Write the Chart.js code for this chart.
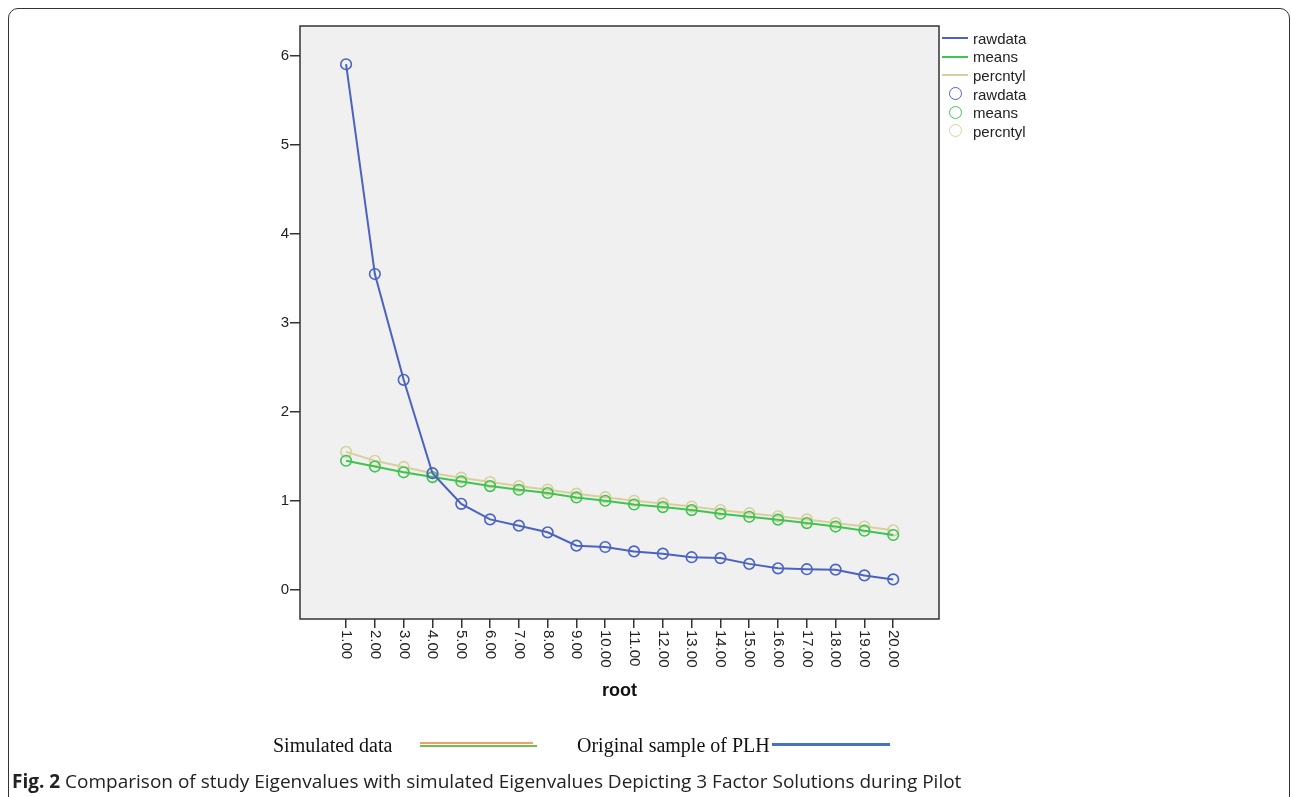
<!DOCTYPE html>
<html>
<head>
<meta charset="utf-8">
<script src="https://cdn.jsdelivr.net/npm/chart.js@4"></script>
<style>
  html, body { margin: 0; padding: 0; background: #fff; }
  #page { position: relative; width: 1292px; height: 797px; overflow: hidden; font-family: "Liberation Sans", Arial, sans-serif; }
  #frame { position: absolute; left: 8px; top: 8px; width: 1282px; height: 800px; border: 1.5px solid #333; border-radius: 10px; box-sizing: border-box; }
  #chartBox { position: absolute; left: 0; top: 0; width: 1292px; height: 797px; }
  .leg { position: absolute; font-size: 15px; color: #222; line-height: 1; }
  .legLine { position: absolute; height: 2px; width: 26px; }
  .legDot { position: absolute; width: 13px; height: 13px; border-radius: 50%; border: 1.8px solid; box-sizing: border-box; }
  .serif { position: absolute; font-family: "Liberation Serif", "Times New Roman", serif; font-size: 20px; color: #111; line-height: 1; }
  #caption { position: absolute; left: 12px; top: 768px; font-family: "Open Sans", sans-serif; font-size: 19px; color: #222; white-space: nowrap; }
</style>
</head>
<body>
<div id="page">
  <div id="frame"></div>
  <div id="chartBox"><canvas id="chart"></canvas></div>

  <!-- right legend -->
  <div class="legLine" style="left:942px; top:37px; background:#4a63c2;"></div>
  <div class="leg" style="left:973px; top:31px;">rawdata</div>
  <div class="legLine" style="left:942px; top:56px; background:#3ec44f;"></div>
  <div class="leg" style="left:973px; top:49px;">means</div>
  <div class="legLine" style="left:942px; top:74px; background:#d8d09c;"></div>
  <div class="leg" style="left:973px; top:68px;">percntyl</div>
  <div class="legDot" style="left:949px; top:87px; border-color:#4a63c2;"></div>
  <div class="leg" style="left:973px; top:87px;">rawdata</div>
  <div class="legDot" style="left:949px; top:106px; border-color:#3ec44f;"></div>
  <div class="leg" style="left:973px; top:105px;">means</div>
  <div class="legDot" style="left:949px; top:124px; border-color:#d8d09c;"></div>
  <div class="leg" style="left:973px; top:124px;">percntyl</div>

  <!-- bottom legend -->
  <div class="serif" style="left:273px; top:735px;">Simulated data</div>
  <div style="position:absolute; left:420px; top:742px; width:113px; height:2px; background:#f0a070;"></div>
  <div style="position:absolute; left:420px; top:745px; width:117px; height:1.5px; background:#6fbf4a;"></div>
  <div class="serif" style="left:577px; top:735px;">Original sample of PLH</div>
  <div style="position:absolute; left:772px; top:743px; width:118px; height:3px; background:#4472c4;"></div>

  <div id="caption"><b>Fig. 2</b> Comparison of study Eigenvalues with simulated Eigenvalues Depicting 3 Factor Solutions during Pilot</div>
</div>

<script>
// root numbers 1..20
const roots = [1, 2, 3, 4, 5, 6, 7, 8, 9, 10, 11, 12, 13, 14, 15, 16, 17, 18, 19, 20];
const rootLabels = ['1.00', '2.00', '3.00', '4.00', '5.00', '6.00', '7.00', '8.00', '9.00', '10.00',
  '11.00', '12.00', '13.00', '14.00', '15.00', '16.00', '17.00', '18.00', '19.00', '20.00'];
const yTicks = [0, 1, 2, 3, 4, 5, 6];

const rawdata = [5.91, 3.55, 2.36, 1.31, 0.965, 0.79, 0.72, 0.645, 0.495, 0.48,
  0.43, 0.405, 0.365, 0.355, 0.29, 0.24, 0.23, 0.225, 0.16, 0.115];
const means = [1.45, 1.385, 1.32, 1.266, 1.217, 1.165, 1.124, 1.087, 1.037, 1.0,
  0.958, 0.929, 0.895, 0.854, 0.82, 0.787, 0.749, 0.71, 0.663, 0.615];
const percntyl = [1.55, 1.45, 1.38, 1.31, 1.26, 1.21, 1.165, 1.125, 1.08, 1.04,
  1.0, 0.97, 0.935, 0.895, 0.86, 0.825, 0.79, 0.75, 0.71, 0.667];

const toXY = arr => arr.map((v, i) => ({ x: roots[i], y: v }));

function series(label, data, color) {
  return {
    label: label,
    data: toXY(data),
    borderColor: color,
    backgroundColor: 'rgba(0,0,0,0)',
    borderWidth: 2,
    tension: 0,
    fill: false,
    pointRadius: 5.3,
    pointHoverRadius: 5.3,
    pointBorderWidth: 1.6,
    pointBorderColor: color,
    pointBackgroundColor: 'rgba(0,0,0,0)',
  };
}

// plot background, frame and rotated x labels
const spssFrame = {
  id: 'spssFrame',
  beforeDatasetsDraw(chart) {
    const { ctx, chartArea: a } = chart;
    ctx.save();
    ctx.fillStyle = '#f0f0f0';
    ctx.fillRect(a.left, a.top, a.right - a.left, a.bottom - a.top);
    ctx.restore();
  },
  afterDraw(chart) {
    const { ctx, chartArea: a } = chart;
    const x = chart.scales.x;
    ctx.save();
    ctx.strokeStyle = '#333';
    ctx.lineWidth = 1.5;
    ctx.strokeRect(a.left, a.top, a.right - a.left, a.bottom - a.top);

    ctx.fillStyle = '#222';
    ctx.font = '15px "Liberation Sans", Arial, sans-serif';
    ctx.textAlign = 'left';
    ctx.textBaseline = 'middle';
    roots.forEach((v, i) => {
      const px = x.getPixelForValue(v);
      ctx.save();
      ctx.translate(px, a.bottom + 11);
      ctx.rotate(Math.PI / 2);
      ctx.fillText(rootLabels[i], 0, 0);
      ctx.restore();
    });

    ctx.font = 'bold 18px "Liberation Sans", Arial, sans-serif';
    ctx.textAlign = 'center';
    ctx.fillStyle = '#111';
    ctx.fillText('root', (a.left + a.right) / 2, 691);
    ctx.restore();
  }
};

new Chart(document.getElementById('chart'), {
  type: 'line',
  data: {
    datasets: [
      series('rawdata', rawdata, '#4a63c2'),
      series('means', means, '#3ec44f'),
      series('percntyl', percntyl, '#d8d09c'),
    ],
  },
  options: {
    responsive: true,
    maintainAspectRatio: false,
    animation: false,
    layout: { padding: { left: 0, top: 26, right: 353, bottom: 0 } },
    plugins: {
      legend: { display: false },
      tooltip: { enabled: false },
    },
    scales: {
      x: {
        type: 'linear',
        min: -0.6,
        max: 21.59,
        afterBuildTicks: scale => { scale.ticks = roots.map(v => ({ value: v })); },
        afterFit: scale => { scale.height = 797 - 619; },
        ticks: { display: false },
        border: { display: false },
        grid: {
          drawOnChartArea: false,
          drawTicks: true,
          tickLength: 9,
          color: '#333',
          lineWidth: 1.5,
        },
      },
      y: {
        type: 'linear',
        min: -0.33,
        max: 6.34,
        afterBuildTicks: scale => { scale.ticks = yTicks.map(v => ({ value: v })); },
        afterFit: scale => { scale.width = 300; },
        border: { display: false },
        ticks: {
          color: '#222',
          padding: 1,
          font: { family: '"Liberation Sans", Arial, sans-serif', size: 15 },
        },
        grid: {
          drawOnChartArea: false,
          drawTicks: true,
          tickLength: 10,
          color: '#333',
          lineWidth: 1.5,
        },
      },
    },
  },
  plugins: [spssFrame],
});
</script>
</body>
</html>
